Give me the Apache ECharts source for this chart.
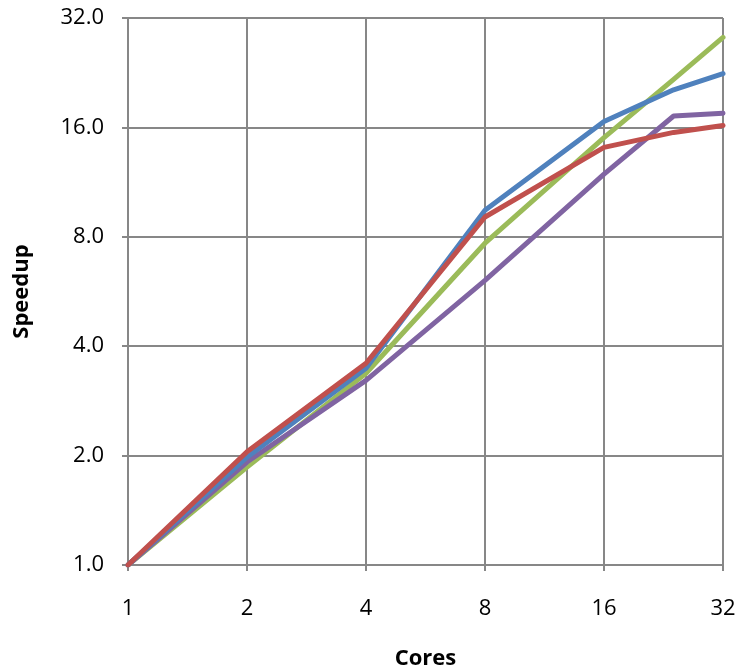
<!DOCTYPE html>
<html>
<head>
<meta charset="utf-8">
<style>
  html, body {margin: 0; padding: 0; background: #fff;}
  #chart {width: 738px; height: 671px;}
</style>
<script src="https://cdn.jsdelivr.net/npm/echarts@6/dist/echarts.min.js"></script>
</head>
<body>
<div id="chart"></div>
<script>
  // cores on x, speedup on y (both log base 2)
  const cores = [1, 2, 4, 8, 16, 24, 32]
  const blueSpeedup = [1, 1.98, 3.48, 9.46, 16.6, 20.3, 22.5]
  const redSpeedup = [1, 2.05, 3.59, 9.07, 14.1, 15.5, 16.2]
  const greenSpeedup = [1, 1.86, 3.37, 7.68, 15.0, 21.7, 28.3]
  const purpleSpeedup = [1, 1.92, 3.22, 6.07, 11.9, 17.2, 17.5]

  const gridColor = '#878787'
  const font = '"Open Sans", "Liberation Sans", sans-serif'

  function pairs (ys) {
    return cores.map((c, i) => [c, ys[i]])
  }

  function lineSeries (name, color, ys) {
    return {
      name: name,
      type: 'line',
      data: pairs(ys),
      showSymbol: false,
      symbol: 'none',
      lineStyle: { color: color, width: 5, cap: 'round', join: 'round' },
      itemStyle: { color: color }
    }
  }

  const axisCommon = {
    type: 'log',
    logBase: 2,
    min: 1,
    max: 32,
    axisLine: { show: true, lineStyle: { color: gridColor, width: 2 } },
    axisTick: { show: true, inside: false, length: 6, lineStyle: { color: gridColor, width: 2 } },
    splitLine: { show: true, lineStyle: { color: gridColor, width: 2 } },
    minorTick: { show: false },
    nameLocation: 'middle',
    nameTextStyle: { fontFamily: font, fontSize: 22, fontWeight: 'bold', color: '#000' }
  }

  const chart = echarts.init(document.getElementById('chart'))
  chart.setOption({
    animation: false,
    grid: { left: 128, right: 15, top: 18, bottom: 106, containLabel: false, outerBoundsMode: 'none' },
    xAxis: Object.assign({}, axisCommon, {
      name: 'Cores',
      nameGap: 83,
      axisLabel: {
        margin: 33,
        fontFamily: font,
        fontSize: 22,
        color: '#000',
        formatter: function (v) { return String(Math.round(v)) }
      }
    }),
    yAxis: Object.assign({}, axisCommon, {
      name: 'Speedup',
      nameGap: 95,
      axisLabel: {
        margin: 24,
        fontFamily: font,
        fontSize: 22,
        color: '#000',
        formatter: function (v) { return v.toFixed(1) }
      }
    }),
    series: [
      lineSeries('Green', '#9BBB59', greenSpeedup),
      lineSeries('Purple', '#8064A2', purpleSpeedup),
      lineSeries('Blue', '#4F81BD', blueSpeedup),
      lineSeries('Red', '#C0504D', redSpeedup)
    ]
  })
</script>
</body>
</html>
